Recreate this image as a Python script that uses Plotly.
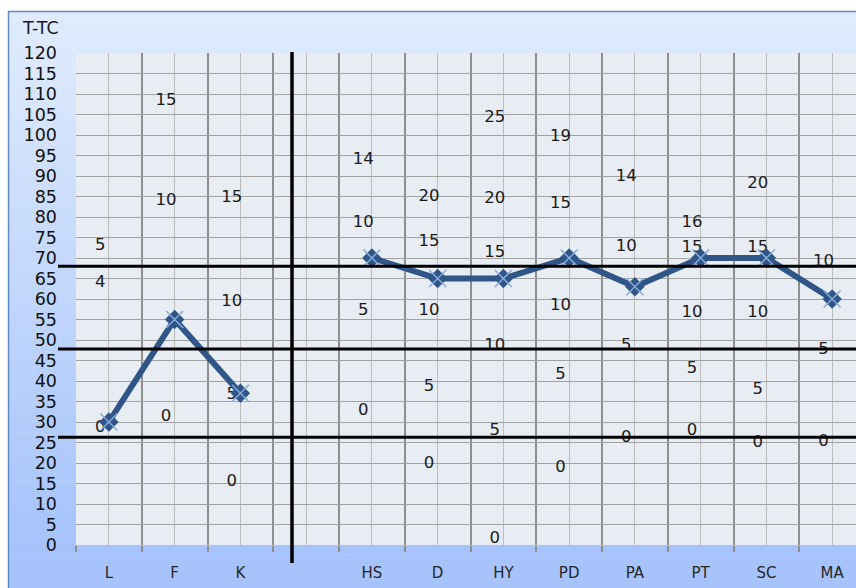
import plotly.graph_objects as go

# ---------------- data ----------------
categories = ["L", "F", "K", "", "HS", "D", "HY", "PD", "PA", "PT", "SC", "MA"]
t_scores = [30, 55, 37, None, 70, 65, 65, 70, 63, 70, 70, 60]

# raw-score labels per column: (text, T-value)
raw_L = [("5", 73), ("4", 64), ("0", 28.5)]
raw_F = [("15", 108.3), ("10", 83.9), ("0", 31.2)]
raw_K = [("15", 84.6), ("10", 59.3), ("5", 36.6), ("0", 15.4)]
raw_HS = [("14", 94), ("10", 78.5), ("5", 57.1), ("0", 32.8)]
raw_D = [("20", 84.8), ("15", 74), ("10", 57.1), ("5", 38.6), ("0", 19.8)]
raw_HY = [("25", 104.2), ("20", 84.4), ("15", 71.3), ("10", 48.6), ("5", 27.9), ("0", 1.4)]
raw_PD = [("19", 99.6), ("15", 83.3), ("10", 58.4), ("5", 41.5), ("0", 18.7)]
raw_PA = [("14", 89.7), ("10", 72.6), ("5", 48.5), ("0", 26.2)]
raw_PT = [("16", 78.5), ("15", 72.4), ("10", 56.5), ("5", 42.9), ("0", 27.9)]
raw_SC = [("20", 88.2), ("15", 72.4), ("10", 56.5), ("5", 37.8), ("0", 25)]
raw_MA = [("10", 69.1), ("5", 47.6), ("0", 25.2)]
raw_columns = [raw_L, raw_F, raw_K, [], raw_HS, raw_D, raw_HY, raw_PD, raw_PA, raw_PT, raw_SC, raw_MA]

ref_lines_T = [68, 47.8, 26.3]      # thick horizontal reference lines
divider_x = 2.785                   # thick vertical divider (category units)

y_ticks = list(range(0, 121, 5))

# ---------------- geometry ----------------
W, H = 856, 588
ML, MR, MT, MB = 76, 0, 53, 43
PW, PH = W - ML - MR, H - MT - MB
x_lo = -0.5
cat_w = 65.75
x_hi = x_lo + PW / cat_w


def px_to_paper_x(px):
    return (px - ML) / PW


def px_to_paper_y(py):
    return (H - MB - py) / PH


xs = list(range(len(categories)))

fig = go.Figure()

# text labels
tx, ty, tt = [], [], []
for i, col in enumerate(raw_columns):
    for txt, v in col:
        tx.append(i - 0.13)
        ty.append(v)
        tt.append(txt)
fig.add_trace(go.Scatter(x=tx, y=ty, text=tt, mode="text",
                         textfont=dict(family="DejaVu Sans", size=16.5, color="#1a1a1a"),
                         textposition="middle center", hoverinfo="skip",
                         cliponaxis=False, showlegend=False))

# profile line
fig.add_trace(go.Scatter(x=xs, y=t_scores, mode="lines+markers",
                         line=dict(color="#2f5687", width=6),
                         marker=dict(symbol="diamond", size=15, color="#2f5687"),
                         showlegend=False, cliponaxis=False))
fig.add_trace(go.Scatter(x=xs, y=t_scores, mode="markers",
                         marker=dict(symbol="x-thin-open", size=17, color="#86aadc",
                                     line=dict(color="#86aadc", width=1.5)),
                         showlegend=False, cliponaxis=False))

shapes = []
# background gradient bands (chart area)
top_px, bot_px, grad_end_px = 11, 588, 540
c0 = (225, 236, 253)
c1 = (166, 196, 251)
nb = 60
for k in range(nb):
    y0p = top_px + (bot_px - top_px) * k / nb
    y1p = top_px + (bot_px - top_px) * (k + 1) / nb
    mid = (y0p + y1p) / 2
    f = min(1.0, max(0.0, (mid - top_px) / (grad_end_px - top_px)))
    c = tuple(int(round(a + (b - a) * f)) for a, b in zip(c0, c1))
    shapes.append(dict(type="rect", xref="paper", yref="paper", layer="below",
                       x0=px_to_paper_x(8), x1=px_to_paper_x(W + 2),
                       y0=px_to_paper_y(y1p + 0.5), y1=px_to_paper_y(y0p),
                       fillcolor="rgb(%d,%d,%d)" % c, line=dict(width=0)))
# chart-area border
shapes.append(dict(type="rect", xref="paper", yref="paper", layer="below",
                   x0=px_to_paper_x(8.5), x1=px_to_paper_x(W + 5),
                   y0=px_to_paper_y(H + 5), y1=px_to_paper_y(11.5),
                   fillcolor="rgba(0,0,0,0)", line=dict(color="#5f89c4", width=1.5)))
# plot area
shapes.append(dict(type="rect", xref="paper", yref="paper", layer="below",
                   x0=0, x1=1, y0=0, y1=1, fillcolor="#e8ecf3", line=dict(width=0)))

# thick reference lines
for v in ref_lines_T:
    shapes.append(dict(type="line", xref="paper", yref="paper",
                       x0=px_to_paper_x(58), x1=1.0, y0=v / 120, y1=v / 120,
                       line=dict(color="black", width=3)))
dx_paper = (divider_x - x_lo) / (x_hi - x_lo)
shapes.append(dict(type="line", xref="paper", yref="paper",
                   x0=dx_paper, x1=dx_paper,
                   y0=px_to_paper_y(563), y1=px_to_paper_y(52),
                   line=dict(color="black", width=3.5)))

fig.update_layout(
    width=W, height=H,
    margin=dict(l=ML, r=MR, t=MT, b=MB, pad=0),
    paper_bgcolor="white",
    plot_bgcolor="rgba(0,0,0,0)",
    shapes=shapes,
    showlegend=False,
    annotations=[dict(text="T-TC", xref="paper", yref="paper",
                      x=px_to_paper_x(20), y=px_to_paper_y(28),
                      xanchor="left", yanchor="middle", showarrow=False,
                      font=dict(family="DejaVu Sans", size=17.5, color="#1a1a1a"))],
)

fig.update_xaxes(
    range=[x_lo, x_hi], tickmode="array", tickvals=xs, ticktext=categories,
    showgrid=True, gridcolor="#bcbcbc", gridwidth=1,
    ticks="", ticklabelstandoff=17,
    tickfont=dict(family="DejaVu Sans", size=15, color="#262626"),
    minor=dict(tick0=0.5, dtick=1, showgrid=True, gridcolor="#8e8e8e", gridwidth=1.5,
               ticks="outside", ticklen=6, tickcolor="#8e8e8e", tickwidth=1.5),
    zeroline=False, showline=False, fixedrange=True,
)
fig.update_yaxes(
    range=[0, 120], tickmode="array", tickvals=y_ticks,
    showgrid=True, gridcolor="#a2a2a2", gridwidth=1.2,
    ticks="", ticklabelstandoff=18,
    tickfont=dict(family="DejaVu Sans", size=17.5, color="#111111"),
    zeroline=False, showline=False, fixedrange=True,
)

fig.write_html("out.html")
